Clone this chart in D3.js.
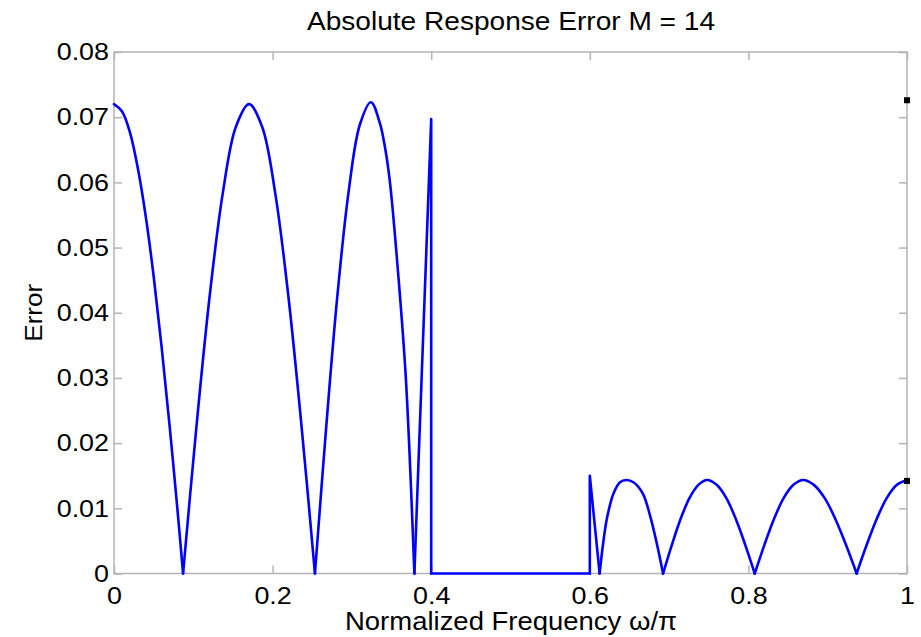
<!DOCTYPE html>
<html>
<head>
<meta charset="utf-8">
<script src="https://cdn.jsdelivr.net/npm/d3@7"></script>
<style>
  html, body { margin: 0; padding: 0; background: #fff; }
  text { font-family: "Liberation Sans", Arial, Helvetica, sans-serif; fill: #000; }
</style>
</head>
<body>
<svg id="chart" width="921" height="637"></svg>
<script>
// ---- data ----
const title = "Absolute Response Error M = 14";
const xLabel = "Normalized Frequency \u03C9/\u03C0";
const yLabel = "Error";
const xTicks = [0, 0.2, 0.4, 0.6, 0.8, 1];
const xTickLabels = ["0", "0.2", "0.4", "0.6", "0.8", "1"];
const yTicks = [0, 0.01, 0.02, 0.03, 0.04, 0.05, 0.06, 0.07, 0.08];
const yTickLabels = ["0", "0.01", "0.02", "0.03", "0.04", "0.05", "0.06", "0.07", "0.08"];

// error curve: frequency (ω/π) and absolute error
const freq = [
  // passband lobe 1
  0, 0.01, 0.02, 0.03, 0.04, 0.05, 0.06, 0.07, 0.08, 0.0871,
  // passband lobe 2
  0.1037, 0.1204, 0.1370, 0.1536, 0.1703, 0.1869, 0.2035, 0.2201, 0.2368, 0.2534,
  // passband lobe 3
  0.2675, 0.2816, 0.2958, 0.3099, 0.3240, 0.3350, 0.3420, 0.3480, 0.3580, 0.3680, 0.3788,
  // band edge spike and transition band
  0.4, 0.4,
  0.6, 0.6, 0.6124,
  // stopband lobes
  0.617, 0.622, 0.630, 0.638, 0.646, 0.655, 0.6667, 0.6764, 0.6845, 0.6924,
  0.7035, 0.7146, 0.7258, 0.7369, 0.748, 0.760, 0.772, 0.784, 0.796, 0.808,
  0.8202, 0.8324, 0.8446, 0.8568, 0.869, 0.8825, 0.896, 0.9095, 0.923, 0.9365,
  0.9492, 0.9619, 0.9746, 0.9873, 1.0
];
const err = [
  0.0720, 0.0709, 0.0677, 0.0622, 0.0548, 0.0456, 0.0348, 0.0228, 0.0098, 0,
  0.0222, 0.0423, 0.0582, 0.0685, 0.0720, 0.0685, 0.0582, 0.0423, 0.0222, 0,
  0.0223, 0.0425, 0.0585, 0.0688, 0.0723, 0.0692, 0.0652, 0.0600, 0.0465, 0.0300, 0,
  0.0697, 0,
  0, 0.0150, 0,
  0.0048, 0.0087, 0.0123, 0.0140, 0.01435, 0.0140, 0.0123, 0.0087, 0.0046, 0,
  0.0044, 0.0084, 0.0116, 0.0136, 0.01435, 0.0136, 0.0116, 0.0084, 0.0044, 0,
  0.0044, 0.0084, 0.0116, 0.0136, 0.01435, 0.0136, 0.0116, 0.0084, 0.0044, 0,
  0.0044, 0.0084, 0.0116, 0.0136, 0.0143
];
// black end-point markers at the right edge
const markerFreq = [1.0, 1.0];
const markerErr = [0.0726, 0.0142];

// ---- layout ----
const svg = d3.select("#chart");
const margin = { left: 114, right: 14, top: 52, bottom: 63.5 };
const W = 921, H = 637;
const x = d3.scaleLinear().domain([0, 1]).range([margin.left, W - margin.right]);
const y = d3.scaleLinear().domain([0, 0.08]).range([H - margin.bottom, margin.top]);

const axisColor = "#b4b4b4";

function stretch(sel, factor, fixedLen) {
  sel.each(function () {
    const w = this.getComputedTextLength();
    this.setAttribute("textLength", fixedLen != null ? fixedLen : w * factor);
    this.setAttribute("lengthAdjust", "spacingAndGlyphs");
  });
}

// frame
svg.append("rect")
  .attr("x", x(0)).attr("y", y(0.08))
  .attr("width", x(1) - x(0)).attr("height", y(0) - y(0.08))
  .attr("fill", "none").attr("stroke", axisColor).attr("stroke-width", 1.5);

// axes with inward ticks
const tickLen = 8;
const bottomAxis = d3.axisBottom(x).tickValues(xTicks).tickFormat((d, i) => xTickLabels[i])
  .tickSizeInner(-tickLen).tickSizeOuter(0).tickPadding(13);
const topAxis = d3.axisTop(x).tickValues(xTicks).tickFormat("").tickSizeInner(-tickLen).tickSizeOuter(0);
const leftAxis = d3.axisLeft(y).tickValues(yTicks).tickFormat((d, i) => yTickLabels[i])
  .tickSizeInner(-tickLen).tickSizeOuter(0).tickPadding(5);
const rightAxis = d3.axisRight(y).tickValues(yTicks).tickFormat("").tickSizeInner(-tickLen).tickSizeOuter(0);

function styleAxis(g) {
  g.select(".domain").remove();
  g.selectAll(".tick line").attr("stroke", axisColor).attr("stroke-width", 1.5);
  g.selectAll(".tick text").attr("font-size", 24).attr("fill", "#000")
    .attr("font-family", "'Liberation Sans', Arial, sans-serif");
}
svg.append("g").attr("transform", `translate(0,${y(0)})`).call(bottomAxis).call(styleAxis)
  .selectAll(".tick text").call(stretch, 1.12);
svg.append("g").attr("transform", `translate(0,${y(0.08)})`).call(topAxis).call(styleAxis);
svg.append("g").attr("transform", `translate(${x(0)},0)`).call(leftAxis).call(styleAxis)
  .selectAll(".tick text").call(stretch, 1.12);
svg.append("g").attr("transform", `translate(${x(1)},0)`).call(rightAxis).call(styleAxis);

// ---- curve: split at zero cusps, draw smooth lobes ----
const pts = freq.map((f, i) => ({ f, e: err[i] }));
const segments = [];
let cur = [pts[0]];
for (let i = 1; i < pts.length; i++) {
  cur.push(pts[i]);
  if (pts[i].e === 0 && i < pts.length - 1) {
    segments.push(cur);
    cur = [pts[i]];
  }
}
if (cur.length > 1) segments.push(cur);

const smoothLine = d3.line().x(d => x(d.f)).y(d => y(d.e)).curve(d3.curveCatmullRom.alpha(0.5));
const straightLine = d3.line().x(d => x(d.f)).y(d => y(d.e));

const plot = svg.append("g");
segments.forEach(seg => {
  let strict = true;
  for (let i = 1; i < seg.length; i++) if (seg[i].f <= seg[i - 1].f) strict = false;
  const useSmooth = strict && seg.length > 3;
  plot.append("path")
    .attr("d", (useSmooth ? smoothLine : straightLine)(seg))
    .attr("fill", "none").attr("stroke", "#0000ff")
    .attr("stroke-width", 2.6).attr("stroke-linejoin", "round").attr("stroke-linecap", "round");
});

// markers
svg.selectAll("rect.marker").data(markerFreq.map((f, i) => ({ f, e: markerErr[i] })))
  .enter().append("rect").attr("class", "marker")
  .attr("x", d => x(d.f) - 3).attr("y", d => y(d.e) - 3)
  .attr("width", 6).attr("height", 6).attr("fill", "#000");

// ---- labels ----
svg.append("text").attr("x", 511).attr("y", 30)
  .attr("text-anchor", "middle").attr("font-size", 26).text(title)
  .call(stretch, 1, 408);
svg.append("text").attr("x", 511).attr("y", 630)
  .attr("text-anchor", "middle").attr("font-size", 25).text(xLabel)
  .call(stretch, 1, 332);
svg.append("text").attr("transform", `translate(42,${(y(0) + y(0.08)) / 2}) rotate(-90)`)
  .attr("text-anchor", "middle").attr("font-size", 24).text(yLabel)
  .call(stretch, 1, 58);
</script>
</body>
</html>
